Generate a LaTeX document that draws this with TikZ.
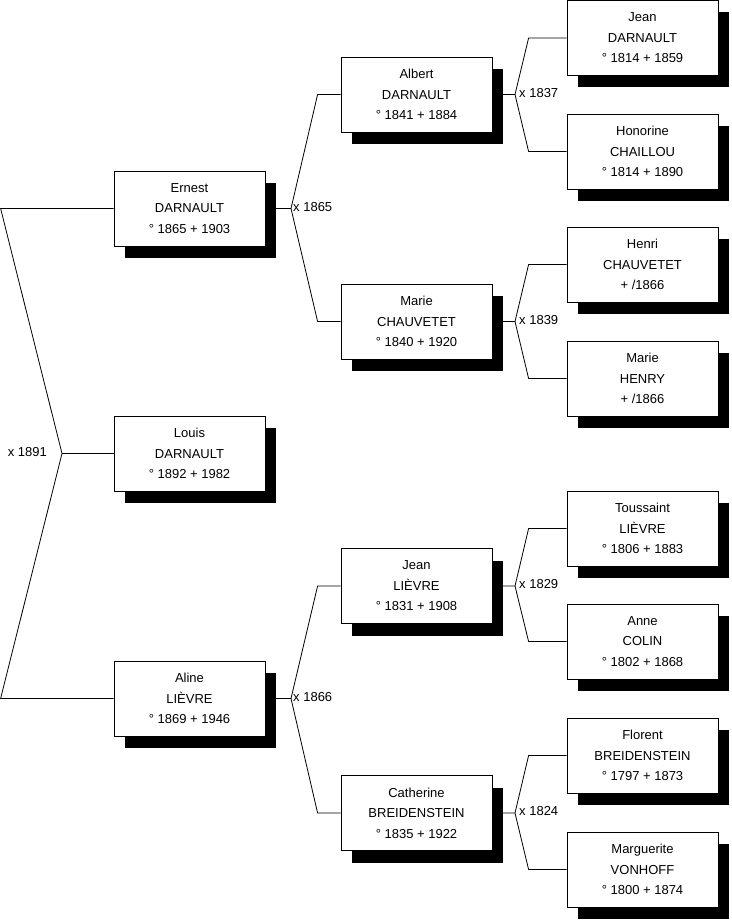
\documentclass[tikz,border=0pt]{standalone}
\usepackage{fontspec}
\setmainfont{Liberation Sans}
\usetikzlibrary{shadows}

\begin{document}
\begin{tikzpicture}[x=1pt,y=-1pt,
  person/.style={draw=black, fill=white, line width=0.8pt, minimum width=151pt, minimum height=75pt,
    inner sep=0pt, align=center, font=\fontsize{13}{20.5}\selectfont,
    general shadow={fill=black, draw=none, shadow xshift=11pt, shadow yshift=-12pt}},
  wed/.style={font=\fontsize{13}{14}\selectfont, inner sep=1pt},
  tie/.style={line width=0.8pt}]

\useasboundingbox (0,0) rectangle (731,920);

%%%% child
\node[person] (louis) at (189.5,453.5) {Louis\\DARNAULT\\° 1892 + 1982};

%%%% parents
\node[person] (ernest) at (189.5,208.5) {Ernest\\DARNAULT\\° 1865 + 1903};
\node[person] (aline)  at (189.5,698.5) {Aline\\LIÈVRE\\° 1869 + 1946};

%%%% grandparents
\node[person] (albert)    at (416.5,94.5)  {Albert\\DARNAULT\\° 1841 + 1884};
\node[person] (mariec)    at (416.5,321.5) {Marie\\CHAUVETET\\° 1840 + 1920};
\node[person] (jeanl)     at (416.5,586)   {Jean\\LIÈVRE\\° 1831 + 1908};
\node[person] (catherine) at (416.5,813)   {Catherine\\BREIDENSTEIN\\° 1835 + 1922};

%%%% great-grandparents
\node[person] (jeand)      at (642.5,38)    {Jean\\DARNAULT\\° 1814 + 1859};
\node[person] (honorine)   at (642.5,151.5) {Honorine\\CHAILLOU\\° 1814 + 1890};
\node[person] (henri)      at (642.5,264.5) {Henri\\CHAUVETET\\+ /1866};
\node[person] (marieh)     at (642.5,378.5) {Marie\\HENRY\\+ /1866};
\node[person] (toussaint)  at (642.5,528.5) {Toussaint\\LIÈVRE\\° 1806 + 1883};
\node[person] (anne)       at (642.5,641.5) {Anne\\COLIN\\° 1802 + 1868};
\node[person] (florent)    at (642.5,755.5) {Florent\\BREIDENSTEIN\\° 1797 + 1873};
\node[person] (marguerite) at (642.5,869.5) {Marguerite\\VONHOFF\\° 1800 + 1874};

%%%% marriages
\coordinate (m1891) at (62,453.5);
\coordinate (m1865) at (291,208.5);
\coordinate (m1866) at (291,698.5);
\coordinate (m1837) at (515,94.5);
\coordinate (m1839) at (515,321.5);
\coordinate (m1829) at (515,586);
\coordinate (m1824) at (515,813);

\node[wed, anchor=east] (w1891) at (48,452) {x 1891};
\node[wed, anchor=west] (w1865) at (292,207) {x 1865};
\node[wed, anchor=west] (w1866) at (292,697) {x 1866};
\node[wed, anchor=west] (w1837) at (518,93) {x 1837};
\node[wed, anchor=west] (w1839) at (518,320) {x 1839};
\node[wed, anchor=west] (w1829) at (518,584.5) {x 1829};
\node[wed, anchor=west] (w1824) at (518,811.5) {x 1824};

%%%% links
\draw[tie] (louis.west) -- (m1891);
\draw[tie] (ernest.west) -- ([xshift=-113pt]ernest.west) -- (m1891) -- ([xshift=-113pt]aline.west) -- (aline.west);

\draw[tie] (ernest.east) -- (m1865) -- ([xshift=-23pt]albert.west) -- (albert.west);
\draw[tie] (m1865) -- ([xshift=-23pt]mariec.west) -- (mariec.west);
\draw[tie] (aline.east) -- (m1866) -- ([xshift=-23pt]jeanl.west) -- (jeanl.west);
\draw[tie] (m1866) -- ([xshift=-23pt]catherine.west) -- (catherine.west);

\draw[tie] (albert.east) -- (m1837) -- ([xshift=-38pt]jeand.west) -- (jeand.west);
\draw[tie] (m1837) -- ([xshift=-38pt]honorine.west) -- (honorine.west);
\draw[tie] (mariec.east) -- (m1839) -- ([xshift=-38pt]henri.west) -- (henri.west);
\draw[tie] (m1839) -- ([xshift=-38pt]marieh.west) -- (marieh.west);
\draw[tie] (jeanl.east) -- (m1829) -- ([xshift=-38pt]toussaint.west) -- (toussaint.west);
\draw[tie] (m1829) -- ([xshift=-38pt]anne.west) -- (anne.west);
\draw[tie] (catherine.east) -- (m1824) -- ([xshift=-38pt]florent.west) -- (florent.west);
\draw[tie] (m1824) -- ([xshift=-38pt]marguerite.west) -- (marguerite.west);

\end{tikzpicture}
\end{document}
